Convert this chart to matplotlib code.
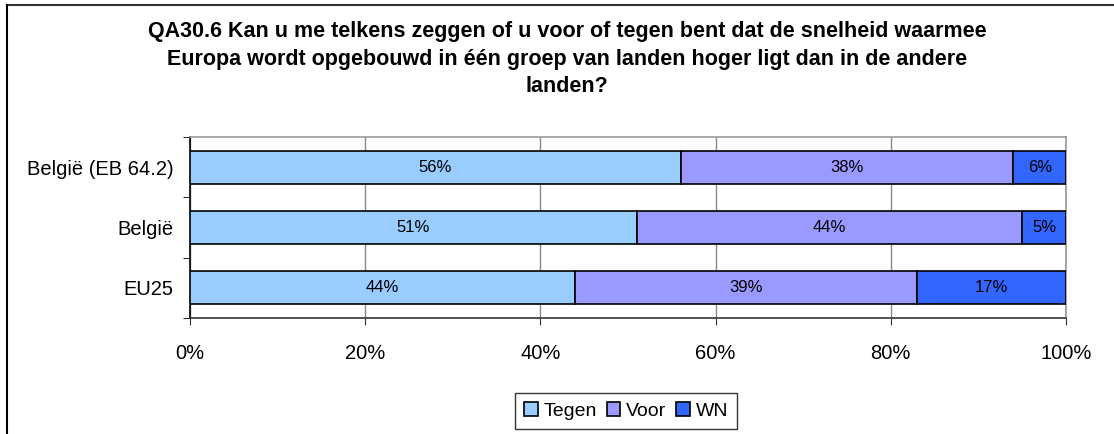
import matplotlib.pyplot as plt
import numpy as np
from matplotlib.lines import Line2D

plt.rcParams['font.family'] = ['Liberation Sans', 'DejaVu Sans']

categories = ['België (EB 64.2)', 'België', 'EU25']
tegen = [56, 51, 44]
voor = [38, 44, 39]
wn = [6, 5, 17]
series_names = ['Tegen', 'Voor', 'WN']
colors = ['#99CCFF', '#9999FF', '#3366FF']
xticks = [0, 20, 40, 60, 80, 100]

title = ("QA30.6 Kan u me telkens zeggen of u voor of tegen bent dat de snelheid waarmee\n"
         "Europa wordt opgebouwd in één groep van landen hoger ligt dan in de andere\n"
         "landen?")

fig = plt.figure(figsize=(11.14, 4.34), dpi=100)
ax = fig.add_axes([190 / 1114, 1 - 318 / 434, 876 / 1114, 181 / 434])

y = np.arange(len(categories))
left = np.zeros(len(categories))
for name, vals, col in zip(series_names, [tegen, voor, wn], colors):
    bars = ax.barh(y, vals, left=left, height=0.55, color=col, edgecolor='black',
                   linewidth=1.2, label=name, zorder=3)
    for yi, l, v in zip(y, left, vals):
        ax.text(l + v / 2, yi, f'{v}%', ha='center', va='center', fontsize=12, zorder=4)
    left += np.array(vals)

ax.set_xlim(0, 100)
ax.set_ylim(2.5, -0.5)
ax.set_xticks(xticks)
ax.set_xticklabels([f'{t}%' for t in xticks], fontsize=14.5)
ax.set_yticks(y)
ax.set_yticklabels(categories, fontsize=14.5)
ax.tick_params(axis='y', length=0, pad=12)
ax.set_yticks([-0.5, 0.5, 1.5, 2.5], minor=True)
ax.tick_params(axis='y', which='minor', length=5, color='black', direction='out')
ax.tick_params(axis='x', length=5, color='#333333', pad=14)
ax.xaxis.grid(True, color='#888888', linewidth=1, zorder=0)
ax.set_axisbelow(True)

ax.spines['top'].set_color('#999999')
ax.spines['right'].set_color('#999999')
ax.spines['left'].set_color('black')
ax.spines['bottom'].set_color('#333333')
for s in ax.spines.values():
    s.set_linewidth(1.2)

fig.text(567 / 1114, 1 - 59 / 434, title, ha='center', va='center', fontsize=15.5,
         fontweight='bold', linespacing=1.4)

leg = fig.legend(loc='center', bbox_to_anchor=(626 / 1114, 1 - 411 / 434), ncol=3,
                 fontsize=14, frameon=True, fancybox=False, edgecolor='black',
                 handlelength=0.7, handleheight=0.7, handletextpad=0.3,
                 columnspacing=0.5, borderpad=0.45, borderaxespad=0)
leg.get_frame().set_linewidth(1)

# outer frame lines on the top and left edge
fig.add_artist(Line2D([7 / 1114, 1], [1 - 4.5 / 434, 1 - 4.5 / 434], color='#333333',
                      linewidth=1.5, transform=fig.transFigure))
fig.add_artist(Line2D([7 / 1114, 7 / 1114], [0, 1 - 4.5 / 434], color='black',
                      linewidth=1.5, transform=fig.transFigure))

fig.savefig('out.png', dpi=100)
